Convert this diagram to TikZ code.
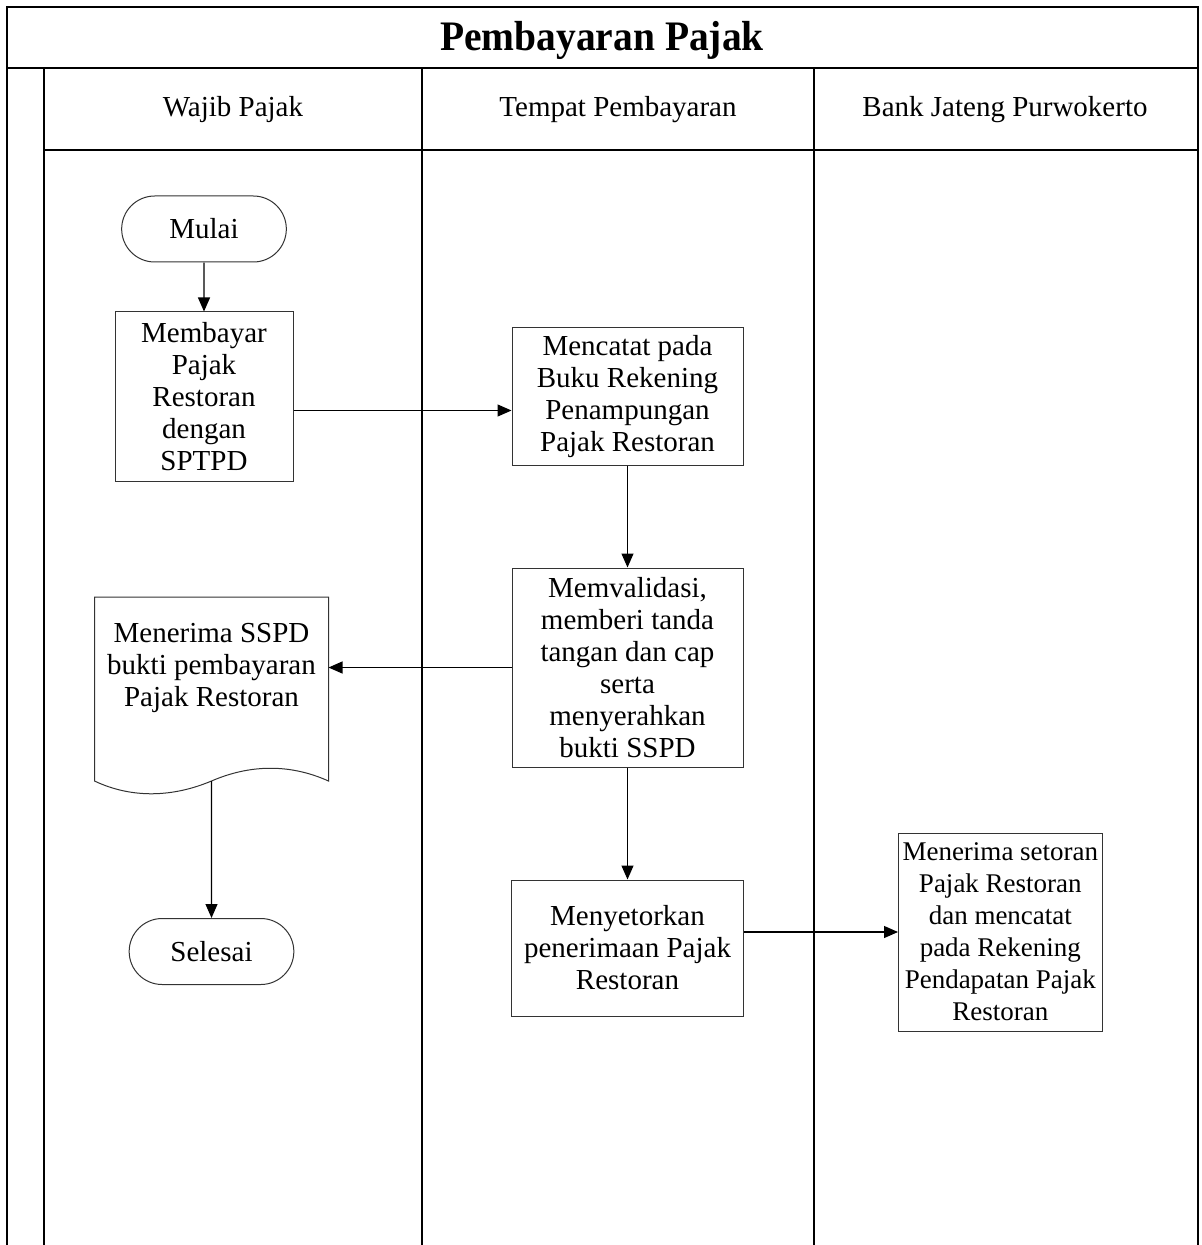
\documentclass[tikz,border=0pt]{standalone}
\usepackage{fontspec}
\setmainfont{Liberation Serif}
\usepackage{tikz}
\usetikzlibrary{positioning}
\usetikzlibrary{arrows.meta,shapes.misc}

\begin{document}
\begin{tikzpicture}[x=0.5pt,y=-0.5pt,
		>={Triangle[length=7pt,width=6pt]},
		lane/.style={line width=1pt},
		flow/.style={->,line width=0.6pt},
		proses/.style={draw=black!80,line width=0.5pt,rectangle,align=center,
			font=\fontsize{14.5}{16}\selectfont,inner sep=2pt},
		terminal/.style={draw=black!80,line width=0.5pt,rounded rectangle,
			font=\fontsize{14.5}{16}\selectfont,minimum width=89pt,minimum height=33pt},
		judul/.style={font=\fontsize{14.5}{16}\selectfont}]
		\useasboundingbox (0,0) rectangle (1202,1245);
		
		% swimlanes
		\draw[lane] (7,1245) -- (7,7) -- (1198,7) -- (1198,1245);
		\draw[lane] (7,68) -- (1198,68);
		\draw[lane] (44,68) -- (44,1245);
		\draw[lane] (44,150) -- (1198,150);
		\draw[lane] (422,68) -- (422,1245);
		\draw[lane] (814,68) -- (814,1245);
		
		\node (title) at (602,40) {\fontsize{21}{24}\selectfont\bfseries\scalebox{0.94}[1]{Pembayaran Pajak}};
		\node[judul] (wp) at (233,110) {Wajib Pajak};
		\node[judul] (tp) at (618,110) {Tempat Pembayaran};
		\node[judul] (bj) at (1005,110) {Bank Jateng Purwokerto};
		
		% wajib pajak
		\node[terminal] (mulai) at (204,229) {Mulai};
		\node[proses,minimum width=89pt,minimum height=84.5pt] (bayar) [below = 24.5pt of mulai] {Membayar\\Pajak\\Restoran\\dengan\\SPTPD};
		
		% tempat pembayaran
		\node[proses,minimum width=115.5pt,minimum height=68.5pt] (catat) [right = 109pt of bayar] {Mencatat pada\\Buku Rekening\\Penampungan\\Pajak Restoran};
		\node[proses,minimum width=115.5pt,minimum height=99.5pt] (validasi) [below = 51pt of catat] {Memvalidasi,\\memberi tanda\\tangan dan cap\\serta\\menyerahkan\\bukti SSPD};
		\node[proses,minimum width=116pt,minimum height=68pt] (setor) [below = 56pt of validasi] {Menyetorkan\\penerimaan Pajak\\Restoran};
		
		% dokumen SSPD
		\node[proses,draw=none,minimum width=116.5pt,minimum height=70pt] (terima) [left = 91.5pt of validasi] {Menerima SSPD\\bukti pembayaran\\Pajak Restoran};
		\draw[draw=black!80,line width=0.5pt] (terima.north west) -- (terima.north east) -- ([yshift=-21.5pt]terima.south east)
			.. controls +(-20pt,9pt) and +(18.5pt,8pt) .. ([yshift=-21.5pt]terima.south)
			.. controls +(-19pt,-8pt) and +(19pt,-9pt) .. ([yshift=-21.5pt]terima.south west) -- cycle;
		\coordinate (terimabot) at ([yshift=-21.5pt]terima.south);
		\node[terminal] (selesai) [below = 90pt of terima] {Selesai};
		
		% bank jateng
		\node[proses,font=\fontsize{13.5}{16}\selectfont,minimum width=101.5pt,minimum height=99pt] (setoran) [right = 77pt of setor, yshift=8pt] {Menerima setoran\\Pajak Restoran\\dan mencatat\\pada Rekening\\Pendapatan Pajak\\Restoran};
		
		\draw[flow] (mulai) -- (bayar);
		\draw[flow] ([yshift=-7pt]bayar.east) -- ([yshift=-7pt]catat.west);
		\draw[flow] (catat) -- (validasi);
		\draw[flow] (validasi.west) -- (terima.east);
		\draw[flow] (terimabot) -- (selesai);
		\draw[flow] (validasi) -- (setor);
		\draw[flow] (setoran.west -| setor.east) -- (setoran.west);
\end{tikzpicture}
\end{document}
